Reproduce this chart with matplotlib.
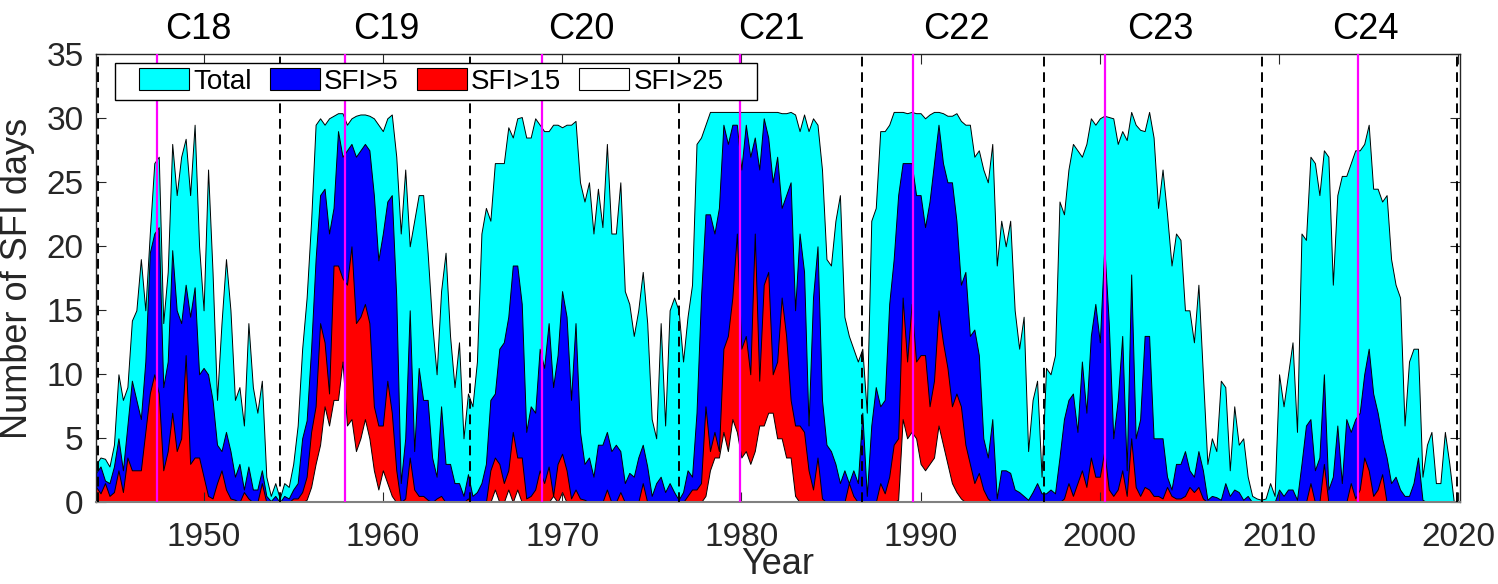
import numpy as np
import matplotlib
matplotlib.use('Agg')
import matplotlib.pyplot as plt
from matplotlib.patches import Patch, Rectangle

plt.rcParams['font.family'] = ['Liberation Sans', 'DejaVu Sans']

# quarterly samples, 1944.00 .. 2019.75 (two years per line)
total = [
    3.0, 3.5, 3.4, 2.8, 4.5, 10.0, 8.0, 9.0,
    14.2, 15.0, 19.0, 15.0, 21.0, 26.5, 27.0, 14.0,
    18.0, 28.0, 24.0, 27.0, 28.4, 24.0, 29.5, 20.0,
    15.0, 26.0, 18.0, 8.0, 14.0, 19.0, 15.0, 8.0,
    9.0, 6.0, 14.0, 9.0, 7.0, 9.5, 2.0, 0.5,
    1.5, 0.3, 1.5, 1.2, 3.0, 6.0, 12.0, 16.0,
    22.0, 29.5, 30.0, 29.5, 30.0, 30.2, 30.4, 30.4,
    29.5, 30.0, 30.2, 30.3, 30.3, 30.2, 30.0, 29.5,
    29.0, 30.0, 30.3, 27.0, 21.0, 26.0, 20.0, 22.0,
    24.0, 24.0, 19.5, 14.0, 10.0, 16.5, 19.5, 13.0,
    9.0, 12.5, 5.0, 8.5, 7.5, 11.0, 21.0, 23.0,
    22.0, 26.5, 26.5, 26.5, 29.3, 28.5, 30.0, 30.1,
    28.5, 28.5, 30.0, 29.5, 29.0, 29.0, 29.5, 29.5,
    29.3, 29.5, 29.5, 29.8, 25.0, 23.5, 25.0, 21.0,
    24.5, 21.5, 28.0, 21.0, 21.0, 25.0, 16.5, 15.5,
    13.0, 15.0, 18.0, 14.0, 6.5, 5.0, 14.0, 6.0,
    15.0, 16.0, 15.0, 11.0, 14.5, 17.0, 28.0, 28.5,
    29.5, 30.5, 30.5, 30.5, 30.5, 30.5, 30.5, 30.5,
    30.5, 30.5, 30.5, 30.5, 30.5, 30.5, 30.5, 30.5,
    30.5, 30.4, 30.4, 30.5, 30.3, 29.0, 30.3, 29.0,
    30.0, 29.5, 26.0, 19.0, 18.5, 22.0, 24.0, 14.5,
    13.0, 12.0, 11.0, 12.0, 7.0, 22.0, 23.0, 29.0,
    29.0, 29.5, 30.5, 30.5, 30.5, 30.4, 30.5, 30.4,
    30.4, 30.0, 30.3, 30.5, 30.5, 30.4, 30.2, 30.2,
    30.4, 29.8, 29.5, 29.5, 27.0, 27.5, 26.0, 25.0,
    28.0, 18.5, 22.0, 20.0, 22.0, 15.0, 12.0, 14.5,
    4.0, 8.0, 9.5, 2.0, 10.5, 10.0, 11.5, 23.5,
    22.5, 26.0, 28.0, 27.5, 27.0, 28.0, 30.0, 29.5,
    30.0, 30.2, 30.1, 30.0, 28.0, 29.0, 28.3, 30.5,
    29.5, 29.1, 29.0, 30.5, 28.5, 23.0, 26.0, 22.5,
    18.5, 21.0, 20.5, 15.0, 15.0, 12.5, 17.0, 10.0,
    3.0, 5.0, 4.0, 9.5, 9.0, 2.5, 7.5, 4.5,
    5.0, 2.0, 0.5, 0.3, 0.2, 0.3, 1.5, 0.5,
    10.0, 7.5, 10.0, 12.5, 5.5, 21.0, 20.5, 27.0,
    26.5, 24.0, 27.5, 27.0, 17.0, 24.0, 25.5, 25.5,
    26.5, 27.5, 27.5, 28.0, 29.5, 24.5, 24.5, 23.5,
    24.0, 19.0, 17.0, 16.0, 6.0, 11.0, 12.0, 12.0,
    2.0, 4.5, 5.5, 1.5, 1.5, 5.5, 3.0, 0.0,
]

sfi5 = [
    2.3, 2.8, 1.7, 1.5, 2.8, 5.0, 2.5, 6.0,
    9.5, 8.0, 6.5, 11.0, 19.5, 21.0, 21.5, 9.0,
    11.0, 19.7, 15.0, 14.0, 17.0, 14.5, 16.8, 10.0,
    10.5, 10.0, 8.0, 4.5, 4.0, 5.5, 4.0, 2.0,
    3.0, 1.0, 2.8, 1.0, 1.0, 2.5, 0.5, 0.1,
    0.5, 0.0, 0.5, 0.3, 1.0, 1.5, 5.0, 6.4,
    12.0, 19.0, 24.0, 24.5, 21.0, 23.0, 29.0, 27.0,
    27.5, 28.0, 27.0, 27.5, 28.0, 27.5, 24.0, 18.9,
    21.0, 23.5, 24.0, 16.0, 1.5, 5.0, 15.0, 4.0,
    10.5, 8.0, 8.0, 3.5, 2.0, 7.5, 3.0, 3.0,
    1.5, 1.5, 0.5, 2.2, 0.5, 0.8, 1.5, 3.0,
    8.0, 8.5, 12.0, 12.5, 14.5, 18.5, 18.5, 15.5,
    5.5, 7.5, 7.0, 12.0, 10.5, 14.0, 9.0, 11.5,
    16.5, 14.5, 8.0, 14.0, 5.5, 3.0, 3.5, 2.0,
    4.5, 4.5, 5.5, 4.0, 4.5, 4.0, 1.5, 2.3,
    2.0, 3.5, 4.5, 2.8, 0.5, 1.5, 2.0, 0.8,
    1.5, 0.8, 0.2, 0.8, 2.5, 2.0, 7.0, 16.0,
    22.5, 22.5, 21.0, 23.0, 29.5, 28.0, 29.5, 29.5,
    26.0, 29.5, 27.0, 28.5, 26.0, 30.0, 28.5, 25.0,
    27.0, 23.0, 24.0, 25.0, 15.0, 21.0, 18.0, 6.0,
    16.0, 20.0, 8.0, 4.5, 4.0, 3.0, 1.5, 2.5,
    1.5, 2.5, 1.5, 7.0, 0.5, 6.0, 9.0, 7.5,
    8.0, 15.5, 19.0, 24.0, 26.5, 26.5, 26.5, 24.0,
    24.0, 21.5, 23.5, 26.5, 29.5, 26.5, 25.0, 25.0,
    22.0, 17.0, 18.0, 13.0, 13.5, 11.5, 5.0, 3.5,
    6.5, 0.3, 2.5, 2.5, 2.3, 1.0, 0.8, 0.5,
    0.2, 0.8, 1.5, 0.7, 0.7, 1.0, 0.7, 3.5,
    6.5, 8.0, 8.5, 5.5, 11.0, 7.0, 13.0, 15.5,
    12.5, 20.0, 14.0, 5.0, 8.0, 13.0, 2.5, 17.8,
    5.0, 6.5, 13.0, 13.0, 5.0, 5.0, 5.0, 2.0,
    1.0, 3.0, 3.0, 4.0, 2.5, 2.0, 4.0, 2.5,
    0.2, 0.5, 0.4, 0.2, 1.5, 0.5, 1.0, 0.8,
    0.2, 0.5, 0.0, 0.0, 0.0, 0.0, 0.0, 0.0,
    1.0, 0.5, 1.0, 1.0, 0.2, 3.0, 6.0, 6.5,
    2.5, 3.5, 10.0, 1.0, 2.0, 6.0, 1.5, 6.5,
    5.5, 6.5, 7.0, 10.0, 12.0, 8.5, 7.0, 5.0,
    3.5, 1.5, 2.0, 1.0, 0.5, 0.5, 1.5, 3.5,
    0.2, 0.0, 0.0, 0.0, 0.0, 0.0, 0.0, 0.0,
]

sfi15 = [
    1.2, 0.7, 1.5, 0.5, 0.8, 2.5, 0.8, 3.5,
    2.5, 2.5, 2.5, 5.5, 8.5, 10.0, 8.5, 2.5,
    4.0, 7.0, 4.0, 5.0, 11.5, 3.0, 3.5, 3.5,
    2.0, 0.5, 0.3, 1.5, 2.5, 1.0, 0.3, 0.2,
    0.0, 0.8, 0.3, 0.0, 0.0, 1.5, 0.0, 0.0,
    0.0, 0.0, 0.0, 0.0, 0.3, 0.3, 0.8, 2.0,
    5.5, 7.5, 14.0, 12.5, 8.5, 18.5, 18.5, 17.5,
    17.0, 20.0, 14.0, 14.5, 15.5, 14.0, 7.5, 6.0,
    6.0, 9.5, 7.0, 2.5, 0.0, 0.3, 3.5, 1.0,
    0.5, 0.5, 0.2, 0.0, 0.3, 0.5, 0.0, 0.0,
    0.0, 0.0, 0.0, 0.3, 0.0, 0.0, 0.0, 0.0,
    2.5, 3.5, 3.0, 1.5, 2.5, 5.5, 3.5, 3.5,
    0.3, 0.5, 1.0, 2.5, 1.5, 2.8, 0.5, 3.0,
    3.8, 2.5, 0.3, 1.0, 0.3, 0.2, 0.0, 0.0,
    0.0, 0.0, 1.0, 0.0, 0.0, 0.8, 0.0, 0.0,
    0.0, 0.0, 1.5, 0.0, 0.0, 0.0, 0.0, 0.0,
    0.0, 0.0, 0.0, 0.0, 0.5, 1.0, 1.0, 1.5,
    7.5, 4.0, 5.5, 4.0, 12.0, 13.0, 16.0, 21.0,
    12.0, 13.0, 10.0, 21.0, 9.5, 17.0, 18.0, 10.0,
    11.0, 16.0, 13.0, 8.0, 6.0, 6.0, 5.5, 2.5,
    1.0, 3.5, 0.3, 0.0, 0.0, 0.0, 0.0, 0.0,
    1.5, 0.5, 0.0, 0.0, 0.0, 0.0, 0.0, 1.5,
    0.7, 2.0, 4.5, 5.0, 16.0, 11.0, 15.5, 11.0,
    11.5, 11.5, 7.5, 9.5, 15.0, 12.5, 10.5, 7.5,
    8.5, 7.5, 4.5, 3.0, 1.5, 2.3, 1.0, 0.3,
    0.0, 0.0, 0.0, 0.0, 0.0, 0.0, 0.0, 0.0,
    0.0, 0.0, 0.0, 0.0, 0.0, 0.0, 0.0, 0.0,
    0.3, 1.5, 0.5, 1.5, 2.5, 1.2, 3.5, 2.0,
    2.0, 4.0, 1.0, 0.5, 1.0, 2.5, 0.5, 5.0,
    1.2, 0.5, 1.2, 1.0, 0.5, 0.5, 0.3, 1.2,
    0.5, 0.3, 0.3, 0.5, 1.2, 0.8, 1.2, 0.3,
    0.0, 0.0, 0.0, 0.0, 0.0, 0.0, 0.0, 0.0,
    0.0, 0.0, 0.0, 0.0, 0.0, 0.0, 0.0, 0.0,
    0.0, 0.0, 0.0, 0.0, 0.0, 0.0, 0.0, 1.5,
    0.0, 0.0, 3.0, 0.0, 0.0, 0.0, 0.0, 0.0,
    1.5, 0.3, 1.0, 3.5, 2.5, 0.5, 1.0, 2.2,
    0.0, 0.0, 0.0, 0.0, 0.0, 0.0, 0.0, 0.0,
    0.0, 0.0, 0.0, 0.0, 0.0, 0.0, 0.0, 0.0,
]

sfi25 = [
    0.0, 0.0, 0.0, 0.0, 0.0, 0.0, 0.0, 0.0,
    0.0, 0.0, 0.0, 0.0, 0.0, 0.0, 0.0, 0.0,
    0.0, 0.0, 0.0, 0.0, 0.0, 0.0, 0.0, 0.0,
    0.0, 0.0, 0.0, 0.0, 0.0, 0.0, 0.0, 0.0,
    0.0, 0.0, 0.0, 0.0, 0.0, 0.0, 0.0, 0.0,
    0.0, 0.0, 0.0, 0.0, 0.0, 0.0, 0.0, 0.2,
    1.2, 3.0, 4.5, 7.5, 6.0, 8.0, 8.0, 11.0,
    6.0, 6.5, 4.0, 5.0, 6.5, 5.0, 2.5, 1.0,
    2.5, 1.5, 0.5, 0.0, 0.0, 0.0, 0.0, 0.0,
    0.0, 0.0, 0.0, 0.0, 0.0, 0.0, 0.0, 0.0,
    0.0, 0.0, 0.0, 0.0, 0.0, 0.0, 0.0, 0.0,
    0.0, 1.0, 0.0, 0.0, 1.0, 0.0, 1.0, 0.0,
    0.0, 0.0, 0.0, 0.0, 0.0, 0.0, 0.5, 0.0,
    0.8, 0.0, 0.0, 0.0, 0.0, 0.0, 0.0, 0.0,
    0.0, 0.0, 0.0, 0.0, 0.0, 0.0, 0.0, 0.0,
    0.0, 0.0, 0.0, 0.0, 0.0, 0.0, 0.0, 0.0,
    0.0, 0.0, 0.0, 0.0, 0.0, 0.0, 0.0, 0.0,
    0.5, 2.5, 3.5, 3.5, 5.5, 4.0, 6.5, 5.5,
    3.5, 4.0, 3.0, 4.0, 6.0, 6.0, 7.0, 7.0,
    5.0, 5.0, 3.5, 3.5, 0.5, 0.0, 0.0, 0.0,
    0.0, 0.0, 0.0, 0.0, 0.0, 0.0, 0.0, 0.0,
    0.0, 0.0, 0.0, 0.0, 0.0, 0.0, 0.0, 0.0,
    0.0, 0.0, 0.0, 0.2, 6.5, 5.0, 5.5, 5.0,
    3.0, 2.5, 3.0, 3.5, 6.0, 4.5, 3.0, 1.5,
    0.8, 0.3, 0.0, 0.0, 0.0, 0.0, 0.0, 0.0,
    0.0, 0.0, 0.0, 0.0, 0.0, 0.0, 0.0, 0.0,
    0.0, 0.0, 0.0, 0.0, 0.0, 0.0, 0.0, 0.0,
    0.0, 0.0, 0.0, 0.0, 0.0, 0.0, 0.0, 0.0,
    0.0, 0.0, 0.0, 0.0, 0.0, 0.0, 0.0, 0.0,
    0.0, 0.0, 0.0, 0.0, 0.0, 0.0, 0.0, 0.0,
    0.0, 0.0, 0.0, 0.0, 0.0, 0.0, 0.0, 0.0,
    0.0, 0.0, 0.0, 0.0, 0.0, 0.0, 0.0, 0.0,
    0.0, 0.0, 0.0, 0.0, 0.0, 0.0, 0.0, 0.0,
    0.0, 0.0, 0.0, 0.0, 0.0, 0.0, 0.0, 0.0,
    0.0, 0.0, 0.0, 0.0, 0.0, 0.0, 0.0, 0.0,
    0.0, 0.0, 0.0, 0.0, 0.0, 0.0, 0.0, 0.0,
    0.0, 0.0, 0.0, 0.0, 0.0, 0.0, 0.0, 0.0,
    0.0, 0.0, 0.0, 0.0, 0.0, 0.0, 0.0, 0.0,
]

years = np.arange(1944, 2020, 0.25)

cycle_names = ['C18', 'C19', 'C20', 'C21', 'C22', 'C23', 'C24']
cycle_label_year = [1949.7, 1960.2, 1971.1, 1981.7, 1992.0, 2003.4, 2014.8]
cycle_max_year = [1947.4, 1957.9, 1968.9, 1979.9, 1989.6, 2000.3, 2014.4]
cycle_min_year = [1944.1, 1954.25, 1964.85, 1976.5, 1986.75, 1996.9, 2009.05, 2019.95]

series = [
    (total, '#00ffff', 'Total'),
    (sfi5, '#0000ff', 'SFI>5'),
    (sfi15, '#ff0000', 'SFI>15'),
    (sfi25, '#ffffff', 'SFI>25'),
]

fig = plt.figure(figsize=(14.98, 5.84), dpi=100)
ax = fig.add_axes([0.0641, 0.1399, 0.9106, 0.7671])

for k, (vals, col, lab) in enumerate(series):
    ax.fill_between(years, 0, vals, facecolor=col, edgecolor='black',
                    linewidth=0.7, zorder=1 + 0.1 * k)

for yr in cycle_max_year:
    ax.axvline(yr, color='#ff00ff', linewidth=1.6, zorder=3)
for yr in cycle_min_year:
    ax.axvline(yr, color='black', linewidth=1.4, linestyle=(0, (5, 3)), zorder=3)

for name, yr in zip(cycle_names, cycle_label_year):
    ax.text(yr, 36.9, name, ha='center', va='center', fontsize=26,
            color='black', clip_on=False)

ax.set_xlim(1944, 2020.1)
ax.set_ylim(0, 35)
ax.set_xticks(range(1950, 2021, 10))
ax.set_yticks(range(0, 36, 5))
ax.tick_params(direction='in', top=True, right=True, length=7, width=0.8,
               labelsize=24, colors='#262626')
ax.tick_params(axis='x', pad=14)
ax.tick_params(axis='y', pad=9)
for s in ax.spines.values():
    s.set_linewidth(1.0)
    s.set_color('#262626')
ax.spines['bottom'].set_color('#808080')
ax.spines['bottom'].set_linewidth(1.5)

ax.set_xlabel('Year', fontsize=26, color='#262626', labelpad=-4)
ax.set_ylabel('Number of SFI days', fontsize=26, color='#262626', labelpad=8)

# legend with a hand-placed frame
handles = [Patch(facecolor=c, edgecolor='black', linewidth=0.8, label=l)
           for _, c, l in series]
leg = ax.legend(handles=handles, loc='center left', bbox_to_anchor=(0.0315, 0.9393),
                ncol=4, frameon=False, fontsize=20, handlelength=1.8,
                handleheight=0.85, handletextpad=0.15, columnspacing=0.65,
                borderpad=0, borderaxespad=0)
leg.set_zorder(8)
ax.add_patch(Rectangle((0.0139, 0.898), 0.4707, 0.0826, transform=ax.transAxes,
                       facecolor='white', edgecolor='black', linewidth=1.0,
                       zorder=7, clip_on=False))

fig.savefig('out.png', dpi=100)
